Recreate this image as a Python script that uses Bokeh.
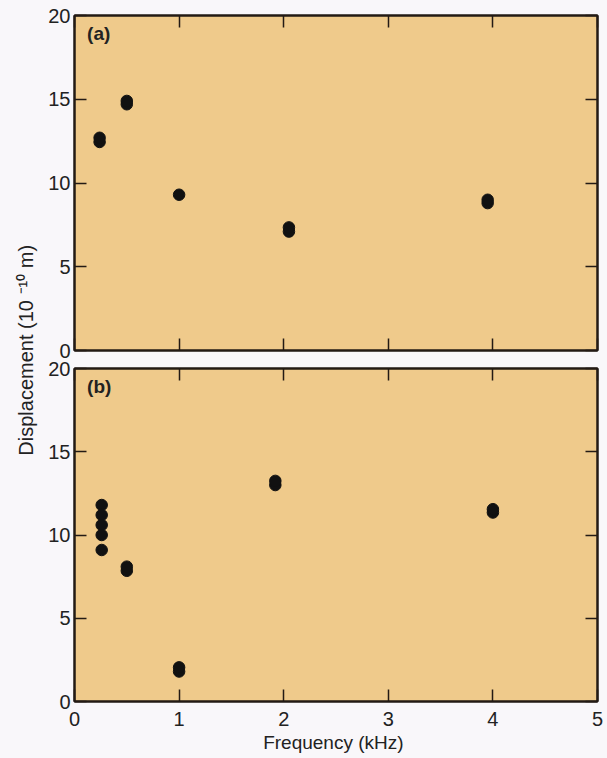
import math
from bokeh.plotting import figure
from bokeh.layouts import row, column
from bokeh.models import Range1d, LinearAxis, FixedTicker, Label
from bokeh.embed import file_html
from bokeh.resources import INLINE

# ---- data ----
a_freq = [0.24, 0.24, 0.50, 0.50, 1.00, 2.05, 2.05, 3.95, 3.95]
a_disp = [12.45, 12.7, 14.7, 14.9, 9.3, 7.1, 7.35, 8.8, 9.0]
b_freq = [0.26, 0.26, 0.26, 0.26, 0.26, 0.50, 0.50, 1.00, 1.00, 1.92, 1.92, 4.00, 4.00]
b_disp = [11.8, 11.2, 10.6, 10.0, 9.1, 7.85, 8.1, 1.8, 2.05, 13.0, 13.25, 11.35, 11.55]
x_ticks = [0, 1, 2, 3, 4, 5]
y_ticks = [0, 5, 10, 15, 20]
panel_labels = ["(a)", "(b)"]
x_title = "Frequency  (kHz)"
y_title = "Displacement  (10 \u207b\u00b9\u2070 m)"

FONT = "Liberation Sans"
BG = "#EFCA8B"
PAGE = "#F9F7FA"
INK = "#231A14"
TXT = "#222222"


def style_axis(ax, labels=True, standoff=4):
    ax.major_tick_in = 12
    ax.major_tick_out = 0
    ax.minor_tick_in = 0
    ax.minor_tick_out = 0
    ax.major_tick_line_color = INK
    ax.major_tick_line_width = 1.5
    ax.axis_line_color = INK
    ax.axis_line_width = 2
    if labels:
        ax.major_label_text_font = FONT
        ax.major_label_text_font_size = "20px"
        ax.major_label_text_color = TXT
        ax.major_label_standoff = standoff
    else:
        ax.major_label_text_font_size = "1px"
        ax.major_label_text_color = None
        ax.major_label_standoff = 0


def make_panel(xs, ys, label, frame_h, top, bottom, show_x_labels):
    p = figure(frame_width=523, frame_height=frame_h,
               x_range=Range1d(0, 5), y_range=Range1d(0, 20),
               output_backend="svg", toolbar_location=None,
               min_border_left=34, min_border_right=10,
               min_border_top=top, min_border_bottom=bottom,
               background_fill_color=BG, border_fill_color=PAGE)
    p.grid.visible = False
    p.outline_line_color = INK
    p.outline_line_width = 2
    p.xaxis.ticker = FixedTicker(ticks=x_ticks)
    p.yaxis.ticker = FixedTicker(ticks=y_ticks)
    style_axis(p.xaxis[0], labels=show_x_labels, standoff=10)
    style_axis(p.yaxis[0], labels=True, standoff=4)
    if show_x_labels:
        p.xaxis.axis_label = x_title
        p.xaxis.axis_label_text_font = FONT
        p.xaxis.axis_label_text_font_size = "19px"
        p.xaxis.axis_label_text_font_style = "normal"
        p.xaxis.axis_label_text_color = TXT
        p.xaxis.axis_label_standoff = 3
    top_ax = LinearAxis(ticker=FixedTicker(ticks=x_ticks))
    style_axis(top_ax, labels=False)
    p.add_layout(top_ax, "above")
    right_ax = LinearAxis(ticker=FixedTicker(ticks=y_ticks))
    style_axis(right_ax, labels=False)
    p.add_layout(right_ax, "right")
    p.scatter(xs, ys, size=11.5, color="#111111", line_color="#111111")
    p.add_layout(Label(x=0.12, y=19.55, text=label, text_font=FONT,
                       text_font_size="19px", text_font_style="bold",
                       text_color=TXT, text_baseline="top",
                       text_align="left"))
    return p


pa = make_panel(a_freq, a_disp, panel_labels[0], 335, 15, 8, False)
pb = make_panel(b_freq, b_disp, panel_labels[1], 333, 10, 57, True)

lab = figure(width=40, height=758, x_range=Range1d(0, 40), y_range=Range1d(0, 758),
             output_backend="svg", toolbar_location=None,
             min_border=0, background_fill_color=PAGE, border_fill_color=PAGE)
lab.axis.visible = False
lab.grid.visible = False
lab.outline_line_color = None
lab.add_layout(Label(x=25, y=758 - 347, text=y_title, angle=math.pi / 2,
                     text_font=FONT, text_font_size="20px", text_color=TXT,
                     text_align="center", text_baseline="middle"))

layout = row(lab, column(pa, pb, spacing=0), spacing=0, background=PAGE)

open("out.html", "w").write(file_html(layout, INLINE))
